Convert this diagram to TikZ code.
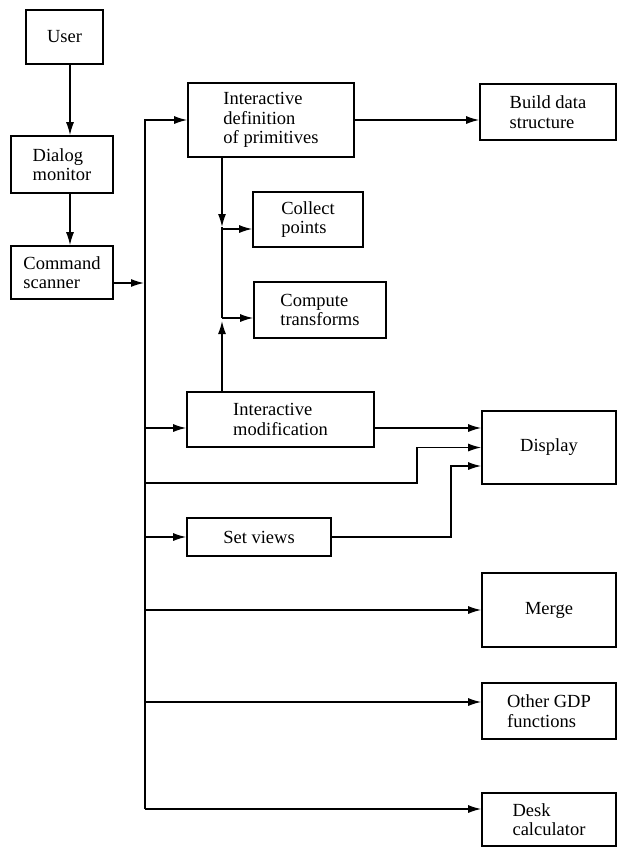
\documentclass[tikz,border=0pt]{standalone}
\usepackage{fontspec}
\setmainfont{Liberation Serif}
\usetikzlibrary{arrows.meta,calc}
\begin{document}
\begin{tikzpicture}[x=1pt,y=-1pt,
  box/.style={draw,line width=1.6pt,inner sep=0pt,align=left,
    font=\fontsize{18.5}{19.5}\selectfont},
  conn/.style={line width=1.4pt},
  arr/.style={conn,-{Latex[length=13pt,width=8pt]}}]
\useasboundingbox (0,0) rectangle (618,847);
% boxes
\node[box,minimum width=77pt,minimum height=54pt] (user) at (64.5,37) {User};
\node[box,minimum width=102pt,minimum height=57pt] (dialog) at (62,164.5) {Dialog\\monitor};
\node[box,minimum width=102pt,minimum height=53pt] (cmd) at (62,272.5) {Command\\scanner};
\node[box,minimum width=166pt,minimum height=74pt] (intdef) at (271,120) {Interactive\\definition\\of primitives};
\node[box,minimum width=136pt,minimum height=56pt] (build) at (548,112) {Build data\\structure};
\node[box,minimum width=110pt,minimum height=55pt] (collect) at (308,219.5) {Collect\\points};
\node[box,minimum width=132pt,minimum height=56pt] (compute) at (320,310) {Compute\\transforms};
\node[box,minimum width=187pt,minimum height=55pt] (intmod) at (280.5,419.5) {Interactive\\modification};
\node[box,minimum width=134pt,minimum height=73pt] (display) at (549,447.5) {Display};
\node[box,minimum width=144pt,minimum height=38pt] (setviews) at (259,537) {Set views};
\node[box,minimum width=134pt,minimum height=74pt] (merge) at (549,610) {Merge};
\node[box,minimum width=134pt,minimum height=56pt] (other) at (549,711) {Other GDP\\functions};
\node[box,minimum width=134pt,minimum height=53pt] (desk) at (549,819.5) {Desk\\calculator};
% bus coordinates
\coordinate (bustop) at (145,120);
\coordinate (busbot) at (145,809);
\coordinate (busin) at (145,283);
\coordinate (jdown) at (222,227);
\coordinate (jcol) at (222,229);
\coordinate (jcomp) at (222,318);
\coordinate (jup) at (222,321);
\coordinate (b2) at (145,483);
\coordinate (k2) at (417,483);
\coordinate (k3) at (451,537);
% connectors
\draw[arr] (user.south -| 70,0) -- (dialog.north -| 70,0);
\draw[arr] (dialog.south -| 70,0) -- (cmd.north -| 70,0);
\draw[arr] (cmd.east |- busin) -- ([xshift=-1pt]busin);
\draw[arr] (busbot) -- (bustop) -- (intdef.west);
\draw[arr] (intdef.east) -- (intdef.east -| build.west);
\draw[arr] (intdef.south -| jdown) -- (jdown);
\draw[conn] (jdown) -- (jcomp);
\draw[arr] (jcol) -- (jcol -| collect.west);
\draw[arr] (jcomp) -- (jcomp -| compute.west);
\draw[arr] (intmod.north -| jup) -- (jup);
\draw[arr] (145,428) -- (intmod.west |- 0,428);
\draw[arr] (intmod.east |- 0,428) -- (display.west |- 0,428);
\draw[arr] (b2) -- (k2) -- (k2 |- display.west) -- (display.west);
\draw[arr] (setviews.west -| 145,0) -- (setviews.west);
\draw[arr] (setviews.east) -- (k3) -- (k3 |- 0,466) -- (display.west |- 0,466);
\draw[arr] (merge.west -| 145,0) -- (merge.west);
\draw[arr] (145,702) -- (other.west |- 0,702);
\draw[arr] (busbot) -- (desk.west |- busbot);
\end{tikzpicture}
\end{document}
